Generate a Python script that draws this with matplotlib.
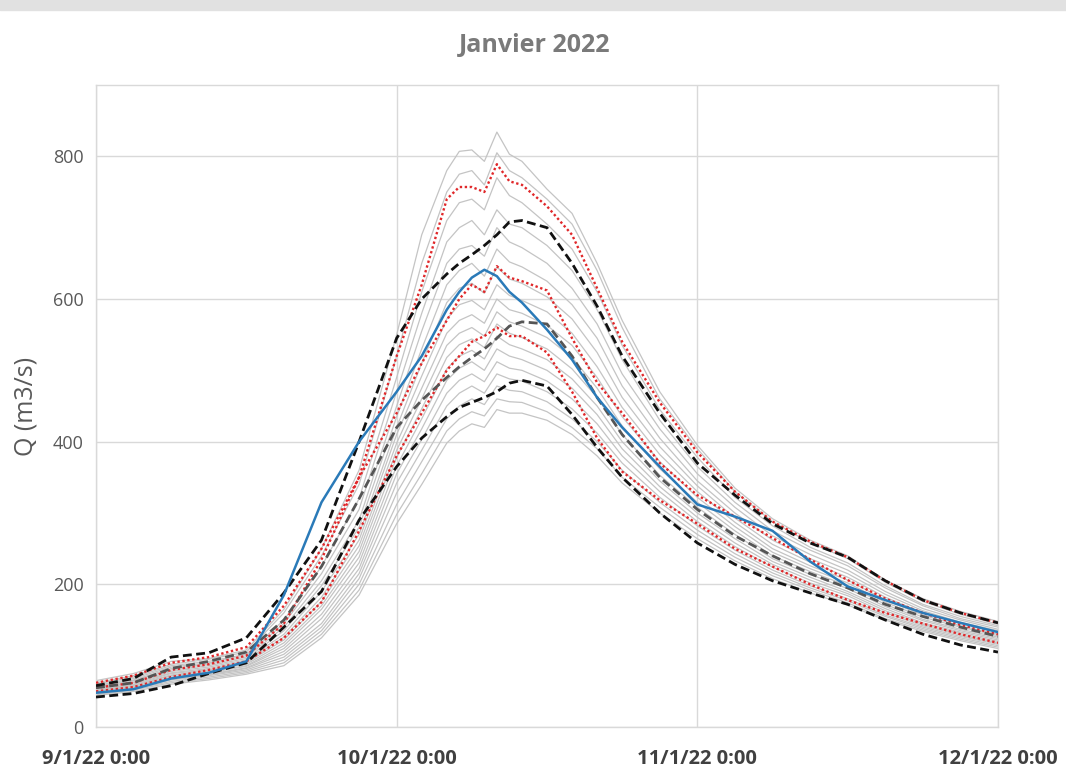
import numpy as np
import pandas as pd
import matplotlib
matplotlib.use('Agg')
import matplotlib.pyplot as plt
from matplotlib.patches import Rectangle

plt.rcParams['font.family'] = ['Open Sans', 'DejaVu Sans']

# hours after 9/1/22 0:00
hours = [0, 3, 6, 9, 12, 15, 18, 21, 24, 26, 28, 29, 30, 31, 32, 33, 34,
         36, 38, 40, 42, 45, 48, 51, 54, 57, 60, 63, 66, 69, 72]

# ensemble members (grey)
members = [
    [65, 75, 92, 96, 108, 165, 250, 360, 550, 690, 780, 807, 809, 793, 834, 803, 793, 754, 720, 650, 570, 470, 395, 335, 292, 262, 240, 206, 180, 162, 148],
    [62, 72, 88, 95, 105, 160, 240, 340, 520, 650, 750, 775, 780, 760, 805, 780, 770, 740, 705, 640, 560, 460, 390, 330, 288, 258, 236, 203, 176, 158, 144],
    [60, 70, 86, 92, 102, 150, 225, 320, 490, 610, 710, 735, 740, 725, 770, 745, 735, 705, 670, 610, 535, 445, 378, 322, 282, 252, 230, 198, 172, 155, 142],
    [58, 68, 84, 90, 100, 145, 215, 305, 470, 580, 680, 700, 710, 690, 725, 705, 700, 675, 640, 585, 515, 430, 365, 315, 275, 248, 226, 195, 170, 152, 140],
    [57, 66, 82, 88, 98, 140, 205, 290, 450, 555, 650, 670, 675, 660, 700, 680, 672, 650, 615, 565, 495, 418, 355, 308, 268, 242, 220, 190, 166, 150, 137],
    [56, 65, 80, 86, 96, 135, 198, 280, 435, 530, 620, 640, 650, 632, 670, 652, 645, 625, 592, 545, 478, 405, 345, 300, 262, 236, 215, 186, 163, 147, 135],
    [55, 63, 78, 84, 94, 130, 190, 270, 420, 510, 595, 615, 622, 608, 645, 628, 622, 603, 572, 525, 462, 393, 338, 293, 256, 231, 210, 182, 160, 145, 133],
    [54, 62, 76, 82, 92, 126, 182, 262, 410, 492, 572, 592, 598, 585, 620, 605, 598, 582, 552, 505, 448, 382, 330, 287, 250, 226, 206, 178, 157, 142, 130],
    [53, 60, 75, 80, 90, 122, 176, 254, 398, 475, 552, 570, 578, 566, 600, 585, 580, 563, 535, 490, 435, 372, 322, 281, 245, 222, 202, 175, 154, 140, 128],
    [52, 59, 73, 79, 88, 118, 170, 246, 388, 460, 535, 552, 560, 548, 582, 568, 562, 546, 518, 475, 422, 362, 315, 275, 240, 218, 198, 172, 151, 137, 126],
    [51, 58, 72, 77, 86, 114, 165, 238, 378, 446, 518, 536, 544, 532, 565, 552, 546, 530, 502, 462, 410, 353, 308, 270, 236, 214, 194, 169, 149, 135, 124],
    [50, 57, 70, 76, 85, 110, 158, 230, 366, 432, 502, 520, 528, 516, 548, 536, 530, 515, 488, 450, 400, 345, 300, 264, 232, 210, 190, 166, 146, 133, 122],
    [49, 56, 68, 74, 83, 106, 152, 222, 355, 418, 486, 503, 512, 500, 530, 520, 515, 500, 475, 438, 390, 337, 294, 258, 228, 206, 187, 163, 144, 131, 120],
    [48, 55, 67, 73, 82, 102, 145, 215, 342, 403, 468, 486, 495, 484, 512, 503, 500, 485, 460, 425, 380, 330, 288, 253, 224, 202, 184, 160, 142, 129, 118],
    [47, 54, 66, 72, 80, 98, 140, 208, 328, 388, 450, 468, 478, 468, 495, 488, 485, 470, 446, 412, 370, 322, 282, 248, 220, 198, 180, 157, 140, 127, 116],
    [46, 53, 64, 70, 78, 94, 135, 200, 312, 372, 432, 450, 460, 452, 478, 472, 470, 456, 432, 400, 360, 315, 276, 243, 216, 195, 177, 155, 138, 125, 114],
    [45, 52, 62, 68, 76, 90, 130, 192, 298, 355, 415, 432, 442, 436, 460, 456, 455, 442, 420, 390, 350, 308, 270, 238, 212, 192, 174, 152, 136, 123, 112],
    [44, 50, 60, 66, 74, 86, 125, 185, 285, 340, 398, 415, 425, 420, 445, 440, 440, 430, 410, 380, 342, 300, 264, 233, 208, 188, 171, 150, 134, 121, 110],
]

# red dotted quantiles
q_high = [62, 72, 90, 98, 112, 170, 250, 350, 520, 620, 740, 757, 757, 750, 789, 765, 760, 730, 690, 615, 540, 455, 385, 330, 288, 260, 238, 205, 178, 160, 146]
q_mid = [55, 62, 80, 88, 100, 145, 235, 350, 440, 510, 570, 600, 620, 610, 646, 630, 625, 612, 545, 483, 440, 370, 325, 295, 265, 235, 206, 180, 160, 143, 130]
q_low = [50, 56, 70, 80, 92, 125, 175, 275, 380, 440, 500, 520, 540, 548, 560, 548, 548, 525, 470, 405, 358, 318, 285, 250, 225, 200, 178, 160, 145, 130, 118]

# black dashed
dash_high = [58, 68, 98, 104, 125, 188, 262, 400, 545, 600, 635, 650, 662, 675, 690, 708, 710, 700, 650, 590, 520, 440, 370, 325, 285, 258, 238, 205, 178, 160, 146]
dash_mid = [55, 62, 82, 92, 105, 150, 225, 320, 420, 458, 490, 505, 518, 530, 545, 562, 568, 565, 520, 462, 410, 350, 305, 268, 240, 215, 195, 172, 155, 140, 127]
dash_low = [42, 47, 58, 75, 90, 140, 190, 290, 365, 405, 435, 448, 455, 462, 470, 482, 486, 478, 438, 392, 350, 300, 258, 228, 205, 188, 172, 150, 130, 115, 105]

# observed
observed = [48, 53, 68, 76, 92, 185, 315, 400, 470, 520, 585, 610, 630, 641, 632, 610, 595, 557, 515, 462, 420, 365, 312, 295, 275, 232, 197, 178, 160, 146, 133]

x_labels = ['9/1/22 0:00', '10/1/22 0:00', '11/1/22 0:00', '12/1/22 0:00']
y_ticks = [0, 200, 400, 600, 800]

start = pd.Timestamp('2022-01-09')
t = start + pd.to_timedelta(hours, unit='h')
tick_dates = [start + pd.Timedelta(days=d) for d in range(4)]

fig = plt.figure(figsize=(10.66, 7.71), dpi=100)
fig.patches.append(Rectangle((0, 1 - 10 / 771), 1, 10 / 771, transform=fig.transFigure,
                             color='#e1e1e1', zorder=0))
ax = fig.add_axes([96 / 1066, 1 - 727 / 771, (998 - 96) / 1066, (727 - 85) / 771])

for m in members:
    ax.plot(t, m, color='#c4c4c4', lw=0.9, zorder=2)

for q in (q_high, q_mid, q_low):
    ax.plot(t, q, color='#e0282a', lw=1.7, linestyle=(0, (1, 1.1)), zorder=3)

ax.plot(t, dash_mid, color='#555555', lw=2.0, linestyle=(0, (3.2, 1.6)), zorder=4)
ax.plot(t, dash_low, color='#111111', lw=2.0, linestyle=(0, (3.2, 1.6)), zorder=4)
ax.plot(t, dash_high, color='#111111', lw=2.0, linestyle=(0, (3.2, 1.6)), zorder=4)

ax.plot(t, observed, color='#2a7ab8', lw=1.8, zorder=5)

ax.set_xlim(tick_dates[0], tick_dates[-1])
ax.set_ylim(0, 900)
ax.set_xticks(tick_dates)
ax.set_xticklabels(x_labels, fontsize=14.5, fontweight='bold', color='#404040')
ax.set_yticks(y_ticks)
ax.set_yticklabels([str(v) for v in y_ticks], fontsize=13, color='#595959')
ax.tick_params(axis='both', length=0)
ax.tick_params(axis='x', pad=16)
ax.tick_params(axis='y', pad=9)
ax.grid(True, color='#d9d9d9', lw=1)
ax.set_axisbelow(True)
for s in ax.spines.values():
    s.set_color('#d9d9d9')
    s.set_linewidth(1)

ax.set_ylabel('Q (m3/s)', fontsize=18, color='#595959', labelpad=10)
fig.text(535 / 1066, 1 - 45 / 771, 'Janvier 2022', ha='center', va='center',
         fontsize=18, fontweight='bold', color='#7a7a7a')

fig.savefig('out.png', dpi=100)
